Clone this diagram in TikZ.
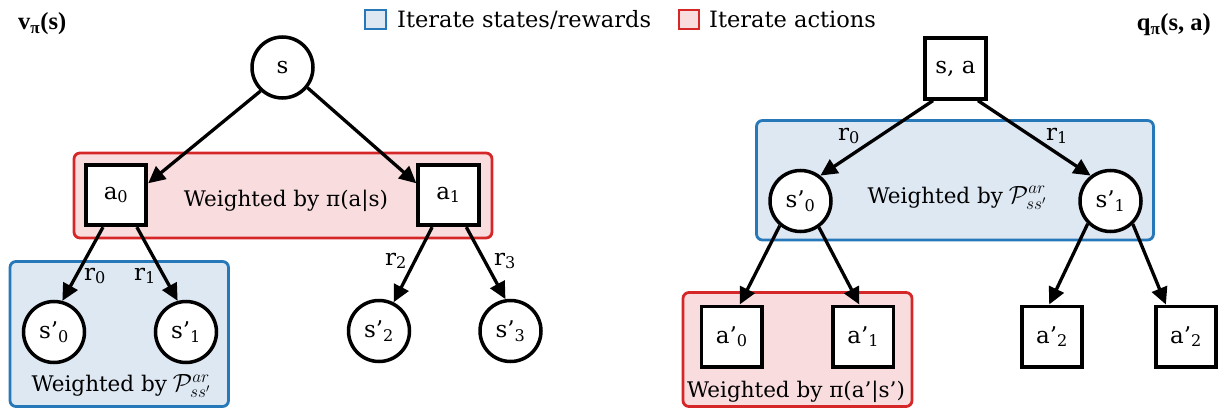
\documentclass[tikz,border=0pt]{standalone}
\usepackage{fontspec}
\setmainfont{DejaVu Serif}
\newfontfamily\headfont{Liberation Serif}
\usetikzlibrary{arrows.meta,calc}

\definecolor{bluefill}{RGB}{221,232,243}
\definecolor{blueline}{RGB}{38,120,184}
\definecolor{redfill}{RGB}{248,220,222}
\definecolor{redline}{RGB}{214,39,40}

\newcommand{\lblfont}{\fontsize{21.5}{25}\selectfont}
\newcommand{\keyfont}{\fontsize{22.5}{26}\selectfont}
\newcommand{\nodefont}{\fontsize{23}{27}\selectfont}
\newcommand{\headsize}{\headfont\bfseries\fontsize{24.5}{28}\selectfont}
\newcommand{\lo}[1]{\textsubscript{#1}}
% transition-probability symbol, set a little larger than the text
\newcommand{\trans}{{\fontsize{25}{28}\selectfont$\mathcal{P}^{ar}_{ss'}$}}

\begin{document}
\begin{tikzpicture}[x=1pt,y=-1pt,
  state/.style={circle,draw,line width=3.5pt,fill=white,minimum size=61pt,inner sep=0pt,font=\nodefont},
  act/.style={rectangle,draw,line width=3.8pt,fill=white,minimum size=60.5pt,inner sep=0pt,font=\nodefont},
  link/.style={line width=3.3pt,-{Triangle[length=17pt,width=16pt]}},
  bluegroup/.style={draw=blueline,fill=bluefill,line width=2.8pt,rounded corners=6pt},
  redgroup/.style={draw=redline,fill=redfill,line width=2.8pt,rounded corners=6pt},
  lbl/.style={inner sep=0pt,font=\lblfont},
  rew/.style={inner sep=0pt,font=\nodefont}
]
\useasboundingbox (0,0) rectangle (1224,412);

% headings
\node[anchor=base west,inner sep=0pt,font=\headsize] (vhead) at (18,30) {v\lo{π}(s)};
\node[anchor=base east,inner sep=0pt,font=\headsize] (qhead) at (1211,30.5) {q\lo{π}(s, a)};

% legend
\draw[line width=1.6pt,draw=blueline,fill=bluefill] (365,10) rectangle (386,29);
\node[inner sep=0pt,font=\keyfont,anchor=base west] (keyblue) at (397,27.3) {Iterate states/rewards};
\draw[line width=1.6pt,draw=redline,fill=redfill] (679,10) rectangle (699,29);
\node[inner sep=0pt,font=\keyfont,anchor=base west] (keyred) at (709,27.3) {Iterate actions};

% ---------- state-value backup ----------
\path[redgroup] (74,153) rectangle (492,238);
\path[bluegroup] (10,261.5) rectangle (228.5,406.5);
\node[lbl,anchor=base] (wpi) at (286,206.5) {Weighted by π(a|s)};
\node[lbl,anchor=base] (wpl) at (121,391.5) {Weighted by\;\trans};

\node[state] (s) at (282.5,67.5) {s};
\node[act] (a0) at (116,195) {a\lo{0}};
\node[act] (a1) at (448.5,195) {a\lo{1}};
\node[state] (sp0) at (54,332) {s’\lo{0}};
\node[state] (sp1) at (186,332) {s’\lo{1}};
\node[state] (sp2) at (379,331) {s’\lo{2}};
\node[state] (sp3) at (510.5,331) {s’\lo{3}};

\draw[link] (s.-133) -- (a0.20);
\draw[link] (s.-39) -- (a1.160);
\draw[link] (a0.-112) -- (sp0.75);
\draw[link] (a0.-57) -- (sp1.105);
\draw[link] (a1.-117) -- (sp2.63);
\draw[link] (a1.-61) -- (sp3.99);

\node[rew] (r0l) at (95,276) {r\lo{0}};
\node[rew] (r1l) at (145,276) {r\lo{1}};
\node[rew] (r2l) at (396,261) {r\lo{2}};
\node[rew] (r3l) at (505,261) {r\lo{3}};

% ---------- action-value backup ----------
\path[bluegroup] (756.5,120.5) rectangle (1153.5,240);
\path[redgroup] (683,292.5) rectangle (912,406.5);
\node[lbl,anchor=base] (wpr) at (957,203) {Weighted by\;\trans};
\node[lbl,anchor=base] (wpa) at (796,397) {Weighted by π(a’|s’)};

\node[act] (sa) at (955.5,68.5) {s, a};
\node[state] (q0) at (800.5,201) {s’\lo{0}};
\node[state] (q1) at (1110.5,201) {s’\lo{1}};
\node[act] (b0) at (731.7,336.7) {a’\lo{0}};
\node[act] (b1) at (863.3,336.7) {a’\lo{1}};
\node[act] (b2) at (1052,336.7) {a’\lo{2}};
\node[act] (b3) at (1186,336.7) {a’\lo{2}};

\draw[link] (sa.-125) -- (q0.52);
\draw[link] (sa.-55) -- (q1.128);
\draw[link] (q0.-130) -- (b0.76);
\draw[link] (q0.-55) -- (b1.97);
\draw[link] (q1.-135) -- (b2.95);
\draw[link] (q1.-46) -- (b3.122);

\node[rew] (r0r) at (849,136) {r\lo{0}};
\node[rew] (r1r) at (1057,136) {r\lo{1}};
\end{tikzpicture}
\end{document}
